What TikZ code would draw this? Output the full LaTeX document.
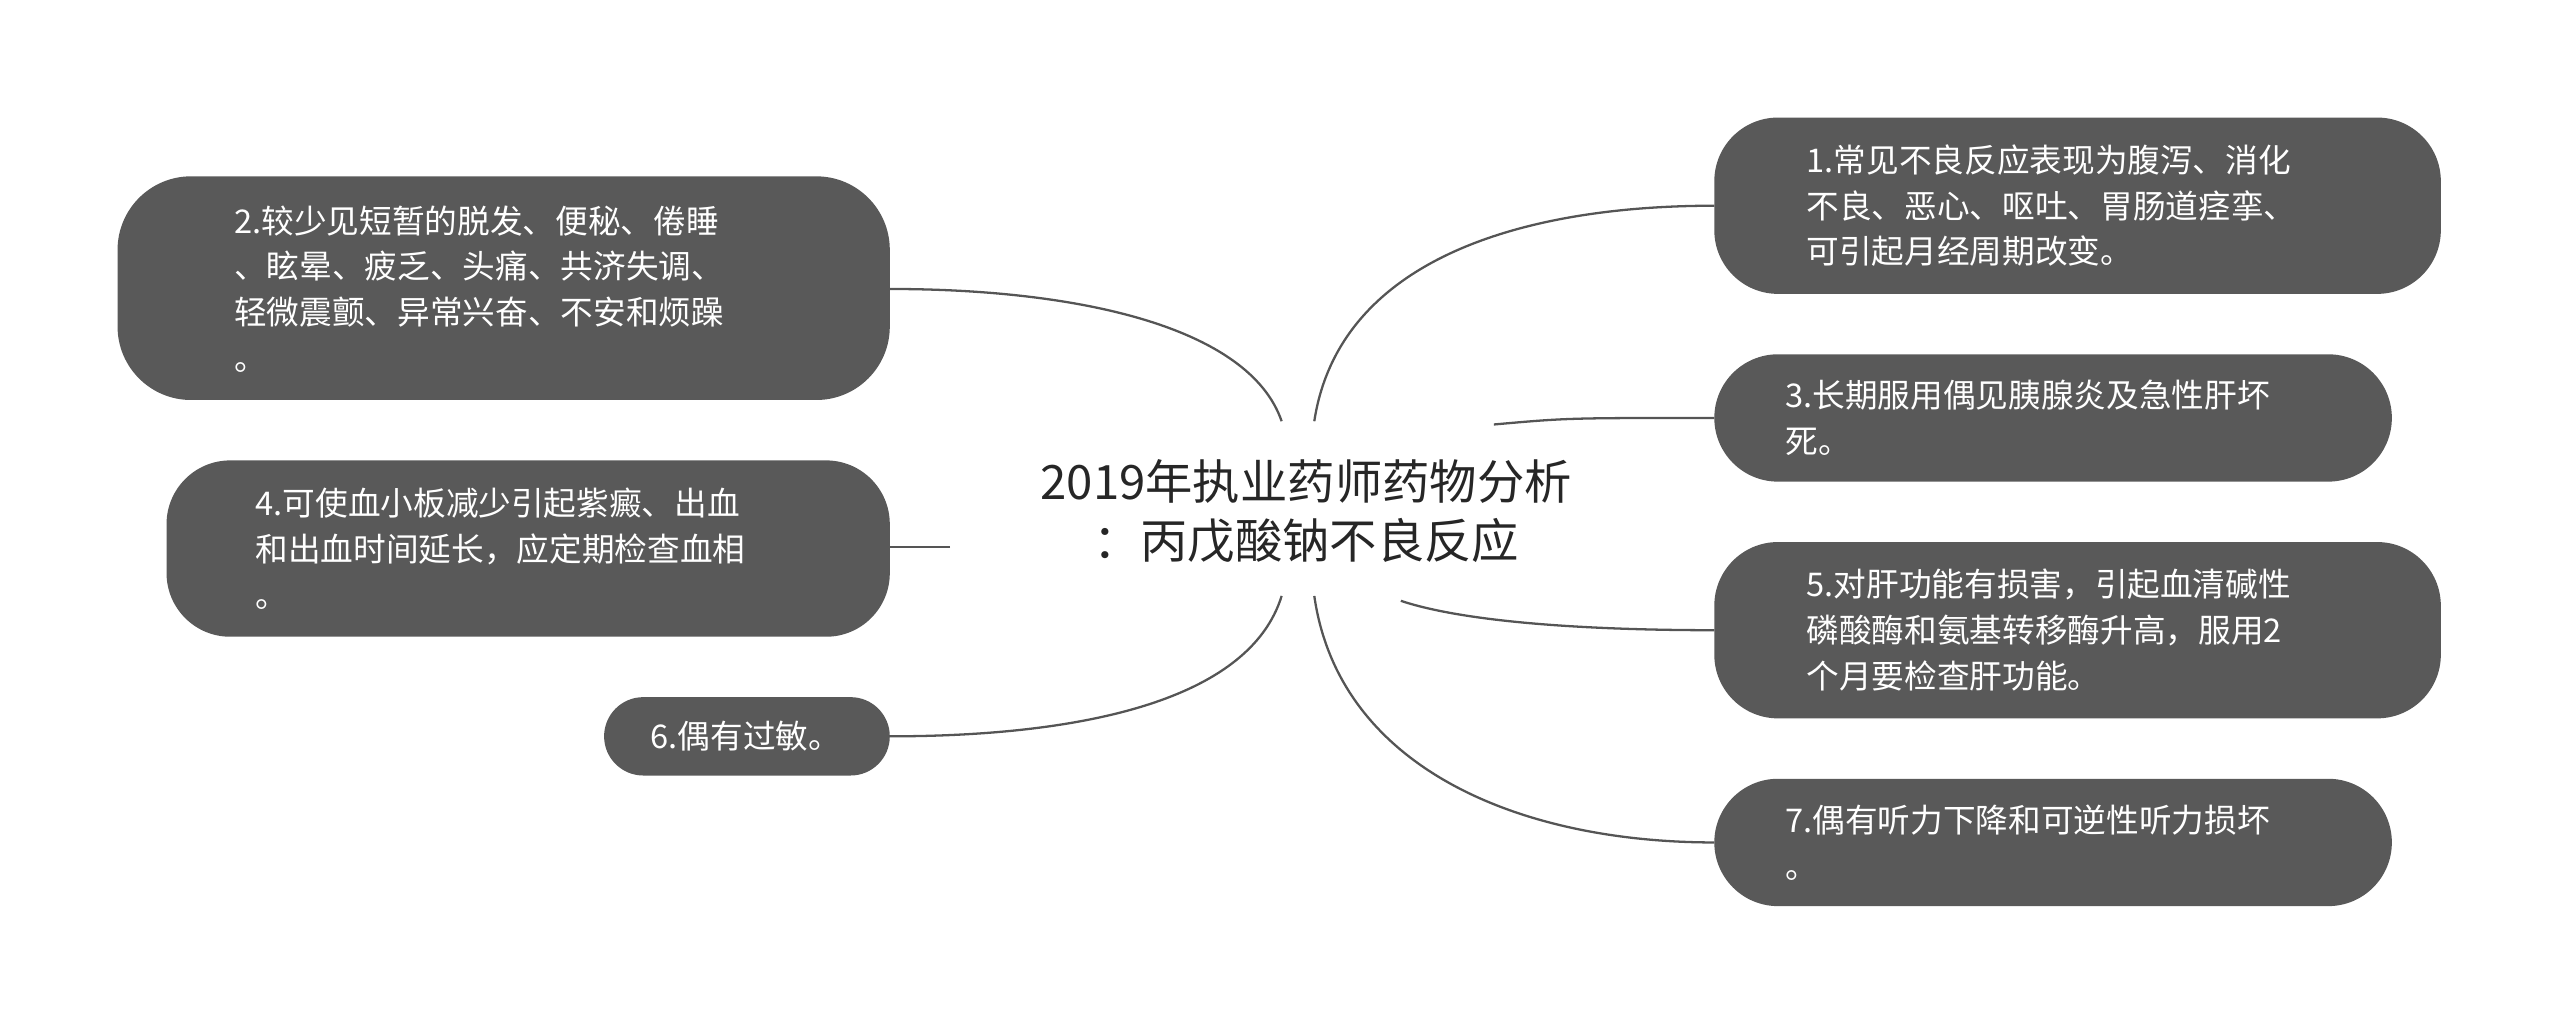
\documentclass[tikz,border=0pt]{standalone}
\usepackage{fontspec}
\setmainfont{Noto Sans CJK SC}
\begin{document}
\begin{tikzpicture}[x=1pt,y=-1pt,
 txt/.style={text=white,align=left,anchor=west,font=\fontsize{20}{28}\selectfont},
 con/.style={draw=linec,line width=1.4pt}]
\definecolor{boxc}{HTML}{595959}
\definecolor{linec}{HTML}{555555}
\useasboundingbox (0,0) rectangle (1568,628);
\fill[boxc,rounded corners=39pt] (1050,72) rectangle (1495,180);
\node[txt] (n1) at (1103,126) {1.常见不良反应表现为腹泻、消化\\不良、恶心、呕吐、胃肠道痉挛、\\可引起月经周期改变。};
\fill[boxc,rounded corners=39pt] (1050,217) rectangle (1465,295);
\node[txt] (n3) at (1090,256) {3.长期服用偶见胰腺炎及急性肝坏\\死。};
\fill[boxc,rounded corners=39pt] (1050,332) rectangle (1495,440);
\node[txt] (n5) at (1103,386) {5.对肝功能有损害，引起血清碱性\\磷酸酶和氨基转移酶升高，服用2\\个月要检查肝功能。};
\fill[boxc,rounded corners=39pt] (1050,477) rectangle (1465,555);
\node[txt] (n7) at (1090,516) {7.偶有听力下降和可逆性听力损坏\\。};
\fill[boxc,rounded corners=45pt] (72,108) rectangle (545,245);
\node[txt] (n2) at (140,177) {2.较少见短暂的脱发、便秘、倦睡\\、眩晕、疲乏、头痛、共济失调、\\轻微震颤、异常兴奋、不安和烦躁\\。};
\fill[boxc,rounded corners=39pt] (102,282) rectangle (545,390);
\node[txt] (n4) at (153,336) {4.可使血小板减少引起紫癜、出血\\和出血时间延长，应定期检查血相\\。};
\fill[boxc,rounded corners=24pt] (370,427) rectangle (545,475);
\node[txt] (n6) at (395,451) {6.偶有过敏。};
\node[align=center,font=\fontsize{29}{36}\selectfont,text=black!85] (c) at (800,313) {2019年执业药师药物分析\\：丙戊酸钠不良反应};
\coordinate (e1) at (1050,126);\coordinate (e3) at (1050,256);
\coordinate (e5) at (1050,386);\coordinate (e7) at (1050,516);
\coordinate (e2) at (545,177);\coordinate (e4) at (545,335);\coordinate (e6) at (545,451);
\draw[con] (805,258) .. controls (820,160) and (930,126) .. (e1);
\draw[con] (915,260) .. controls (960,256) .. (e3);
\draw[con] (858,368) .. controls (900,382) and (980,386) .. (e5);
\draw[con] (805,365) .. controls (820,470) and (930,516) .. (e7);
\draw[con] (785,258) .. controls (765,200) and (660,177) .. (e2);
\draw[con] (582,335) -- (e4);
\draw[con] (785,365) .. controls (765,430) and (660,451) .. (e6);
\end{tikzpicture}
\end{document}
